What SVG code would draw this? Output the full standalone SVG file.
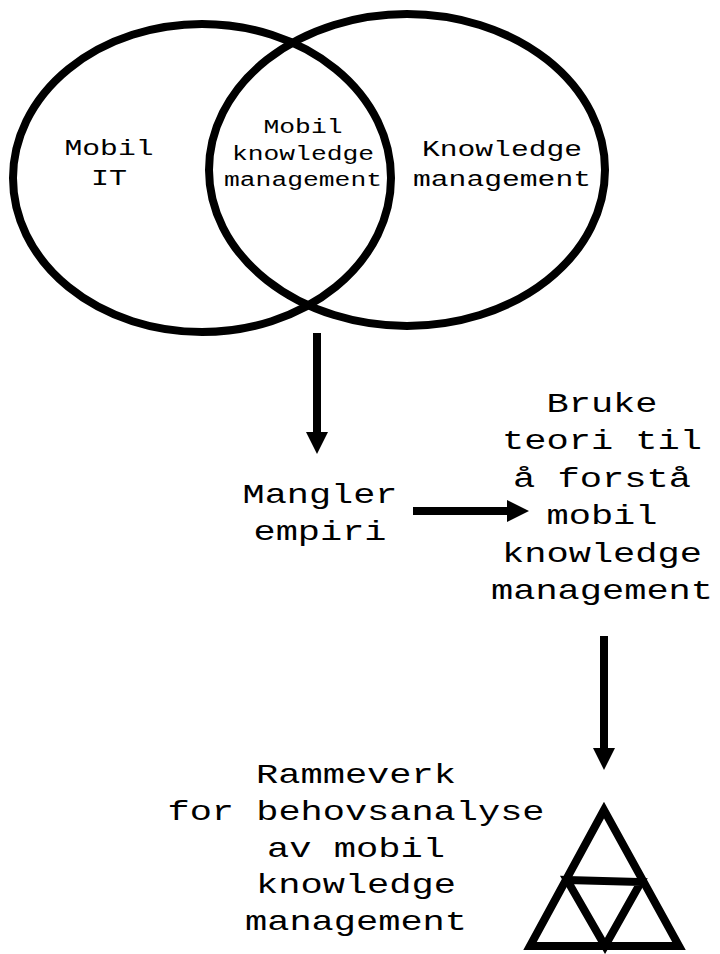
<svg xmlns="http://www.w3.org/2000/svg" width="720" height="954" viewBox="0 0 720 954">
  <style>
    .ring { fill: none; stroke: #000; stroke-width: 8; }
    .lbl { font-family: "Liberation Mono", "DejaVu Sans Mono", monospace; fill: #000; text-anchor: middle; }
    .s22 { font-size: 22px; }
    .s20 { font-size: 20px; }
    .s28 { font-size: 28px; }
    .flow { fill: none; stroke: #000; stroke-width: 8; marker-end: url(#head); }
    .tri { fill: none; stroke: #000; stroke-width: 8; stroke-linejoin: miter; }
  </style>
  <defs>
    <marker id="head" markerUnits="userSpaceOnUse" markerWidth="22" markerHeight="22" viewBox="0 0 22 22" refX="2" refY="11" orient="auto">
      <path d="M0,0 L22,11 L0,22 Z" fill="#000"/>
    </marker>
  </defs>

  <rect width="720" height="954" fill="#fff"/>

  <!-- Venn diagram -->
  <g id="mobil-it">
    <ellipse class="ring" cx="202" cy="178" rx="189" ry="154"/>
    <text class="lbl s22" x="109" y="155" textLength="89" lengthAdjust="spacingAndGlyphs">Mobil</text>
    <text class="lbl s22" x="109" y="185" textLength="36" lengthAdjust="spacingAndGlyphs">IT</text>
  </g>
  <g id="knowledge-management">
    <ellipse class="ring" cx="407" cy="170" rx="198" ry="156"/>
    <text class="lbl s22" x="502" y="156" textLength="160" lengthAdjust="spacingAndGlyphs">Knowledge</text>
    <text class="lbl s22" x="502" y="186" textLength="178" lengthAdjust="spacingAndGlyphs">management</text>
  </g>
  <g id="mobil-knowledge-management">
    <text class="lbl s20" x="303" y="133" textLength="79" lengthAdjust="spacingAndGlyphs">Mobil</text>
    <text class="lbl s20" x="303" y="160" textLength="142" lengthAdjust="spacingAndGlyphs">knowledge</text>
    <text class="lbl s20" x="303" y="186" textLength="158" lengthAdjust="spacingAndGlyphs">management</text>
  </g>

  <!-- Text nodes -->
  <g id="mangler-empiri">
    <text class="lbl s28" x="320" y="503" textLength="155" lengthAdjust="spacingAndGlyphs">Mangler</text>
    <text class="lbl s28" x="320" y="540" textLength="133" lengthAdjust="spacingAndGlyphs">empiri</text>
  </g>
  <g id="bruke-teori">
    <text class="lbl s28" x="602" y="412" textLength="111" lengthAdjust="spacingAndGlyphs">Bruke</text>
    <text class="lbl s28" x="602" y="449" textLength="200" lengthAdjust="spacingAndGlyphs">teori til</text>
    <text class="lbl s28" x="602" y="487" textLength="178" lengthAdjust="spacingAndGlyphs">å forstå</text>
    <text class="lbl s28" x="602" y="524" textLength="111" lengthAdjust="spacingAndGlyphs">mobil</text>
    <text class="lbl s28" x="602" y="562" textLength="200" lengthAdjust="spacingAndGlyphs">knowledge</text>
    <text class="lbl s28" x="602" y="599" textLength="222" lengthAdjust="spacingAndGlyphs">management</text>
  </g>
  <g id="rammeverk">
    <text class="lbl s28" x="356" y="783" textLength="200" lengthAdjust="spacingAndGlyphs">Rammeverk</text>
    <text class="lbl s28" x="356" y="820" textLength="377" lengthAdjust="spacingAndGlyphs">for behovsanalyse</text>
    <text class="lbl s28" x="356" y="857" textLength="178" lengthAdjust="spacingAndGlyphs">av mobil</text>
    <text class="lbl s28" x="356" y="893" textLength="200" lengthAdjust="spacingAndGlyphs">knowledge</text>
    <text class="lbl s28" x="356" y="930" textLength="222" lengthAdjust="spacingAndGlyphs">management</text>
  </g>

  <!-- Subdivided triangle -->
  <g id="triangle">
    <path class="tri" d="M604,810 L530,946 L679,946 Z"/>
    <path class="tri" d="M567,880 L641,882 L605,946 Z"/>
  </g>

  <!-- Connectors -->
  <g id="connectors">
    <path class="flow" d="M317,333 L317,434"/>
    <path class="flow" d="M413,511 L509,511"/>
    <path class="flow" d="M604,636 L604,750"/>
  </g>
</svg>
